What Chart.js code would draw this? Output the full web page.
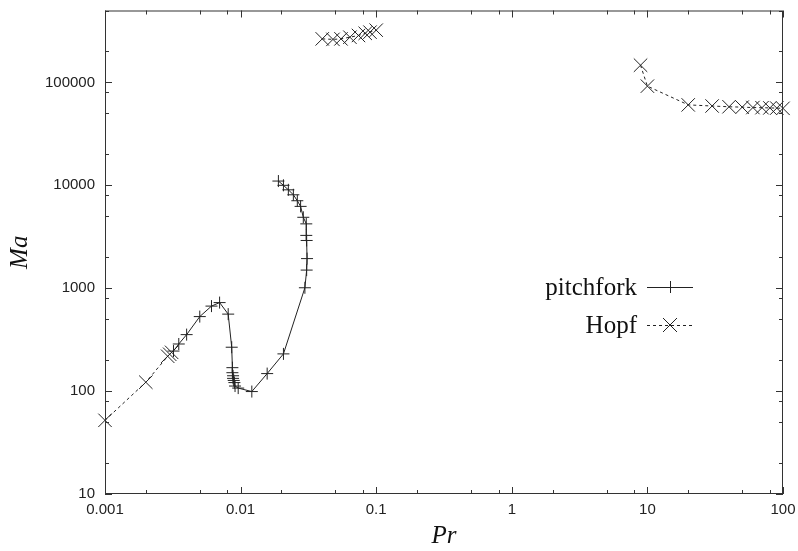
<!DOCTYPE html>
<html>
<head>
<meta charset="utf-8">
<script src="https://cdn.jsdelivr.net/npm/chart.js@4.4.1/dist/chart.umd.min.js"></script>
<style>
  html, body { margin: 0; padding: 0; background: #fff; }
  #wrap { width: 798px; height: 551px; }
</style>
</head>
<body>
<div id="wrap"><canvas id="stability-chart" width="798" height="551"></canvas></div>
<script>
// pitchfork branch, in drawing order (the curve folds back on itself)
const pitchforkPr = [0.0032, 0.0035, 0.0040, 0.0050, 0.0061, 0.0070, 0.0081, 0.0086, 0.0087, 0.0087,
                     0.0088, 0.0088, 0.0089, 0.0090, 0.0091, 0.0096, 0.0121, 0.0157, 0.0207, 0.0298,
                     0.0307, 0.0309, 0.0307, 0.0305, 0.0305, 0.0290, 0.0277, 0.0262, 0.0245, 0.0225,
                     0.0207, 0.0190];
const pitchforkMa = [245, 287, 354, 530, 670, 725, 560, 267, 169, 151,
                     141, 133, 127, 121, 112, 107, 99, 148, 230, 1010,
                     1500, 1940, 2910, 3260, 4220, 4890, 6240, 7080, 8090, 9040,
                     10000, 11000];

// Hopf branch comes in three separate pieces
const hopfLowPr  = [0.001, 0.002, 0.0029, 0.0030, 0.0031];
const hopfLowMa  = [52, 122, 218, 228, 238];
const hopfMidPr  = [0.040, 0.048, 0.055, 0.064, 0.074, 0.083, 0.090, 0.100];
const hopfMidMa  = [265000, 262000, 265000, 275000, 286000, 300000, 308000, 322000];
const hopfHighPr = [8.9, 10, 20, 30, 40, 50, 60, 70, 80, 90, 100];
const hopfHighMa = [147000, 92000, 60500, 59000, 58000, 57500, 57000, 56800, 56500, 56300, 56000];

const xTickLabels = ['0.001', '0.01', '0.1', '1', '10', '100'];
const yTickLabels = ['10', '100', '1000', '10000', '100000'];
const xMin = 0.001, xMax = 100;
const yMin = 10, yMax = 500000;

const INK = '#222';

function toPoints(xs, ys) {
  return xs.map((x, i) => ({ x: x, y: ys[i] }));
}

function decadeLabel(value, first, labels) {
  const e = Math.log10(value);
  const r = Math.round(e);
  if (Math.abs(e - r) > 1e-6) return '';
  return labels[r - first] ?? '';
}

function hopfSet(points) {
  return {
    label: 'Hopf',
    data: points,
    showLine: true,
    borderColor: INK,
    borderWidth: 1,
    borderDash: [3, 3],
    pointStyle: 'crossRot',
    pointRadius: 9.5,
    pointBorderWidth: 1,
    pointBorderColor: INK,
    clip: false
  };
}

// frame with inward, mirrored gnuplot-style ticks
const framePlugin = {
  id: 'frame',
  afterDatasetsDraw(chart) {
    const { ctx, chartArea: a, scales: { x, y } } = chart;
    ctx.save();
    ctx.strokeStyle = '#333';
    ctx.lineWidth = 1;
    ctx.strokeRect(a.left + 0.5, a.top + 0.5, a.right - a.left - 1, a.bottom - a.top - 1);
    ctx.beginPath();
    for (let e = -3; e <= 2; e++) {
      [1, 2, 5, 8].forEach(m => {
        const v = m * Math.pow(10, e);
        if (v < xMin || v > xMax) return;
        const len = m === 1 ? 7 : 4;
        const px = Math.round(x.getPixelForValue(v)) + 0.5;
        ctx.moveTo(px, a.bottom); ctx.lineTo(px, a.bottom - len);
        ctx.moveTo(px, a.top);    ctx.lineTo(px, a.top + len);
      });
    }
    for (let e = 1; e <= 5; e++) {
      [1, 2, 5, 8].forEach(m => {
        const v = m * Math.pow(10, e);
        if (v < yMin || v > yMax) return;
        const len = m === 1 ? 7 : 4;
        const py = Math.round(y.getPixelForValue(v)) + 0.5;
        ctx.moveTo(a.left, py);  ctx.lineTo(a.left + len, py);
        ctx.moveTo(a.right, py); ctx.lineTo(a.right - len, py);
      });
    }
    ctx.stroke();
    ctx.restore();
  }
};

// legend inside the plot: label on the left, line sample on the right
const keyPlugin = {
  id: 'key',
  afterDraw(chart) {
    const { ctx } = chart;
    const rows = [
      { text: 'pitchfork', y: 287, dash: [], mark: 'plus' },
      { text: 'Hopf',      y: 325, dash: [3, 3], mark: 'x' }
    ];
    ctx.save();
    ctx.font = '25px "Liberation Serif", "Times New Roman", serif';
    ctx.fillStyle = '#111';
    ctx.textAlign = 'right';
    ctx.textBaseline = 'middle';
    rows.forEach(r => {
      ctx.fillText(r.text, 637, r.y + 1);
      ctx.strokeStyle = INK;
      ctx.lineWidth = 1;
      ctx.setLineDash(r.dash);
      ctx.beginPath();
      ctx.moveTo(647, r.y + 0.5); ctx.lineTo(693, r.y + 0.5);
      ctx.stroke();
      ctx.setLineDash([]);
      ctx.beginPath();
      if (r.mark === 'plus') {
        ctx.moveTo(664, r.y + 0.5); ctx.lineTo(676, r.y + 0.5);
        ctx.moveTo(670.5, r.y - 6); ctx.lineTo(670.5, r.y + 6);
      } else {
        ctx.moveTo(663, r.y - 7); ctx.lineTo(677, r.y + 7);
        ctx.moveTo(677, r.y - 7); ctx.lineTo(663, r.y + 7);
      }
      ctx.stroke();
    });
    ctx.restore();
  }
};

const ctx = document.getElementById('stability-chart').getContext('2d');
new Chart(ctx, {
  type: 'scatter',
  data: {
    datasets: [
      {
        label: 'pitchfork',
        data: toPoints(pitchforkPr, pitchforkMa),
        showLine: true,
        borderColor: INK,
        borderWidth: 1,
        pointStyle: 'cross',
        pointRadius: 6,
        pointBorderWidth: 1,
        pointBorderColor: INK,
        clip: false
      },
      hopfSet(toPoints(hopfLowPr, hopfLowMa)),
      hopfSet(toPoints(hopfMidPr, hopfMidMa)),
      hopfSet(toPoints(hopfHighPr, hopfHighMa))
    ]
  },
  options: {
    responsive: false,
    animation: false,
    devicePixelRatio: 1,
    layout: { padding: { top: 7, right: 15, left: 0, bottom: 0 } },
    plugins: {
      legend: { display: false },
      tooltip: { enabled: false }
    },
    elements: { line: { tension: 0 } },
    scales: {
      x: {
        type: 'logarithmic',
        min: xMin, max: xMax,
        afterFit: s => { s.height = 57; s.paddingLeft = 0; s.paddingRight = 0; },
        grid: { display: false, drawTicks: false },
        border: { display: false },
        ticks: {
          autoSkip: false,
          maxRotation: 0,
          padding: 7,
          color: INK,
          font: { family: '"Liberation Sans", Arial, sans-serif', size: 15 },
          callback: v => decadeLabel(v, -3, xTickLabels)
        },
        title: {
          display: true,
          text: 'Pr',
          color: '#111',
          padding: { top: 0, bottom: 0 },
          font: { family: '"Liberation Serif", "Times New Roman", serif', style: 'italic', size: 25 }
        }
      },
      y: {
        type: 'logarithmic',
        min: yMin, max: yMax,
        afterFit: s => { s.width = 105; s.paddingTop = 0; s.paddingBottom = 0; },
        grid: { display: false, drawTicks: false },
        border: { display: false },
        ticks: {
          autoSkip: false,
          padding: 10,
          color: INK,
          font: { family: '"Liberation Sans", Arial, sans-serif', size: 15 },
          callback: v => decadeLabel(v, 1, yTickLabels)
        },
        title: {
          display: true,
          text: 'Ma',
          color: '#111',
          padding: { top: 5, bottom: 0 },
          font: { family: '"Liberation Serif", "Times New Roman", serif', style: 'italic', size: 25 }
        }
      }
    }
  },
  plugins: [framePlugin, keyPlugin]
});
</script>
</body>
</html>
